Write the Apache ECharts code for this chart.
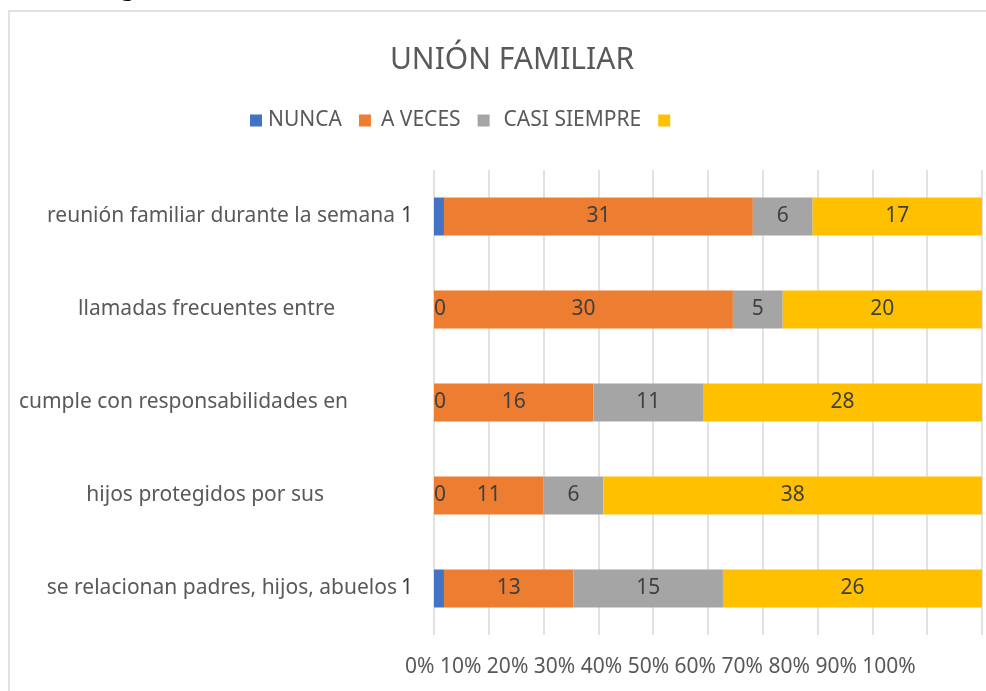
<!DOCTYPE html>
<html>
<head>
<meta charset="utf-8">
<script src="https://cdn.jsdelivr.net/npm/echarts@6/dist/echarts.min.js"></script>
<style>
  html, body { margin: 0; padding: 0; background: #fff; }
  #chart { width: 986px; height: 691px; }
</style>
</head>
<body>
<div id="chart"></div>
<script>
// datos de la gráfica
const categorias = [
  "reunión familiar durante la semana",
  "llamadas frecuentes entre",
  "cumple con responsabilidades en",
  "hijos protegidos por sus",
  "se relacionan padres, hijos, abuelos"
];
const nunca = [1, 0, 0, 0, 1];
const aVeces = [31, 30, 16, 11, 13];
const casiSiempre = [6, 5, 11, 6, 15];
const siempre = [17, 20, 28, 38, 26];
const tickLabels = ["0%", "10%", "20%", "30%", "40%", "50%", "60%", "70%", "80%", "90%", "100%"];

const nombres = ["NUNCA", "A VECES", "CASI SIEMPRE", " "];
const colores = ["#4472C4", "#ED7D31", "#A5A5A5", "#FFC000"];
const valores = [nunca, aVeces, casiSiempre, siempre];

// desplazamiento de cada etiqueta de categoría (como en el original)
const padDerecha = [2, 62, 49, 73, 0];
// separación del texto de la leyenda [izq, der]
const padLeyenda = [[1, 7], [5, 3], [9, 0], [0, 0]];

// totales por fila para el 100% apilado
const totales = categorias.map((c, i) => valores.reduce((s, v) => s + v[i], 0));

const fuente = "Noto Sans";
const labelStyle = { fontFamily: fuente, fontSize: 21, color: "#404040" };

const series = valores.map(function (vals, k) {
  return {
    name: nombres[k],
    type: "bar",
    stack: "total",
    barWidth: 38,
    itemStyle: { color: colores[k] },
    emphasis: { disabled: true },
    label: Object.assign({ show: true, position: "inside" }, labelStyle),
    data: vals.map(function (v, i) {
      const item = { value: (v / totales[i]) * 100, raw: v };
      if (k === 0) {
        item.label = v > 0
          ? { position: "left", distance: 21 }
          : { position: "insideLeft", distance: 0 };
      }
      return item;
    })
  };
});
series.forEach(s => {
  s.label.formatter = p => String(p.data.raw);
});

const richCat = {};
padDerecha.forEach((p, i) => {
  richCat["c" + i] = { fontFamily: fuente, fontSize: 21, color: "#595959", padding: [0, p, 0, 0] };
});

const legendData = nombres.map((n, i) => ({
  name: n,
  textStyle: { padding: [0, padLeyenda[i][1], 0, padLeyenda[i][0]] }
}));

const myChart = echarts.init(document.getElementById("chart"));
myChart.setOption({
  backgroundColor: "#fff",
  animation: false,
  title: {
    text: "UNIÓN FAMILIAR",
    left: 507,
    textAlign: "center",
    top: 40,
    textStyle: { fontFamily: fuente, fontSize: 30, fontWeight: "normal", color: "#595959" }
  },
  legend: {
    data: legendData,
    left: 245,
    top: 105,
    itemWidth: 12,
    itemHeight: 12,
    itemGap: 17,
    icon: "rect",
    textStyle: { fontFamily: fuente, fontSize: 21, color: "#595959" }
  },
  grid: { left: 434, right: 4, top: 170, bottom: 56, containLabel: false },
  xAxis: {
    type: "value",
    min: 0,
    max: 100,
    interval: 10,
    axisLabel: { show: false },
    axisLine: { show: false },
    axisTick: { show: false },
    splitLine: { lineStyle: { color: "#D9D9D9", width: 1.5 } }
  },
  yAxis: {
    type: "category",
    inverse: true,
    data: categorias,
    axisLine: { show: false },
    axisTick: { show: false },
    axisLabel: {
      margin: 37,
      align: "right",
      formatter: (v, i) => "{c" + i + "|" + v + "}",
      rich: richCat
    }
  },
  graphic: [
    {
      type: "rect",
      shape: { x: 9, y: 11, width: 1000, height: 700 },
      style: { fill: "none", stroke: "#D9D9D9", lineWidth: 1.5 },
      silent: true
    },
    {
      type: "text",
      left: 121,
      top: -21,
      style: { text: "g", fontFamily: fuente, fontWeight: "bold", fontSize: 22, fill: "#000" },
      silent: true
    },
    {
      type: "text",
      left: 405,
      top: 657,
      style: { text: tickLabels.join(" "), fontFamily: fuente, fontSize: 21, fill: "#595959" },
      silent: true
    }
  ],
  series: series
});
</script>
</body>
</html>
